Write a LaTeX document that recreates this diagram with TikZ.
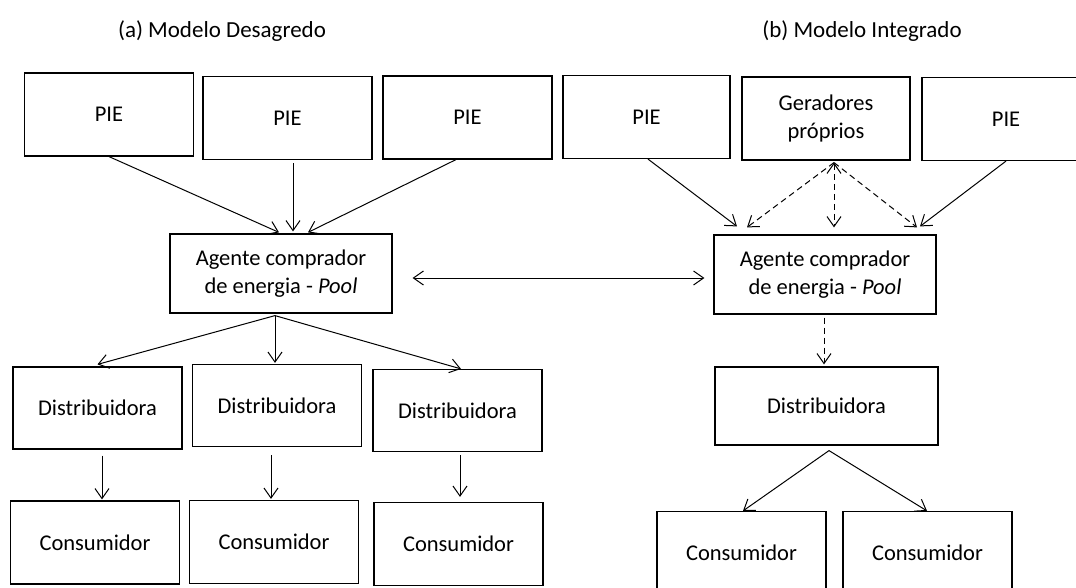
\documentclass[tikz,border=0pt]{standalone}
\usepackage{fontspec}
\setmainfont{Carlito}
\usetikzlibrary{arrows.meta}

\tikzset{
  >={Straight Barb[length=10pt,width=14pt]},
  caixa/.style={draw, line width=1.2pt, align=center, inner sep=0pt,
    minimum width=169pt, minimum height=83pt, font=\fontsize{22.5}{28}\selectfont},
  agente/.style={caixa, minimum width=222pt, minimum height=79pt},
  titulo/.style={font=\fontsize{23}{28}\selectfont},
  seta/.style={->, line width=1pt},
  tracejada/.style={seta, dash pattern=on 6pt off 4pt},
}

\begin{document}
\begin{tikzpicture}[x=1pt,y=-1pt]
\useasboundingbox (0,0) rectangle (1076,588);
\clip (0,0) rectangle (1076,588);
% (a) modelo desagregado
\node[titulo] (TA) at (222,31) {(a) Modelo Desagredo};
\node[caixa] (PA1) at (109,114.5) {PIE};
\node[caixa] (PA2) at (287.5,118) {PIE};
\node[caixa] (PA3) at (467.5,117.5) {PIE};
\node[agente] (AGA) at (281,273.5) {Agente comprador\\de energia - \textit{Pool}};
\node[caixa, minimum height=82pt] (DA1) at (97.5,408) {Distribuidora};
\node[caixa, minimum height=82pt] (DA2) at (277,405.5) {Distribuidora};
\node[caixa, minimum height=82pt] (DA3) at (457.5,410.5) {Distribuidora};
\node[caixa] (CA1) at (95,542.5) {Consumidor};
\node[caixa] (CA2) at (274,542) {Consumidor};
\node[caixa] (CA3) at (458.5,544) {Consumidor};
\draw[seta] (PA1.south) -- ([xshift=-2pt,yshift=1pt]AGA.north);
\draw[seta] ([xshift=5.5pt,yshift=-3pt]PA2.south) -- ([xshift=12pt,yshift=2pt]AGA.north);
\draw[seta] ([xshift=-11.5pt]PA3.south) -- ([xshift=27pt,yshift=1pt]AGA.north);
\draw[seta] ([xshift=-6pt,yshift=-2pt]AGA.south) -- ([yshift=2pt]DA1.north);
\draw[seta] ([xshift=-6pt,yshift=-2pt]AGA.south) -- ([xshift=-2pt,yshift=1pt]DA2.north);
\draw[seta] ([xshift=-6pt,yshift=-2pt]AGA.south) -- ([xshift=3.5pt]DA3.north);
\draw[seta] ([xshift=4.5pt,yshift=-6pt]DA1.south) -- ([xshift=7pt,yshift=1pt]CA1.north);
\draw[seta] ([xshift=-6pt,yshift=-8pt]DA2.south) -- ([xshift=-3pt,yshift=1pt]CA2.north);
\draw[seta] ([xshift=2.5pt,yshift=-3pt]DA3.south) -- ([xshift=1.5pt,yshift=5pt]CA3.north);
% (b) modelo integrado
\node[titulo] (TB) at (862,31) {(b) Modelo Integrado};
\node[caixa, minimum width=167pt] (PB1) at (646.5,117) {PIE};
\node[caixa, minimum width=168pt] (GP) at (826,118.5) {Geradores\\próprios};
\node[caixa, minimum width=168pt] (PB2) at (1006,119) {PIE};
\node[agente] (AGB) at (825,274.5) {Agente comprador\\de energia - \textit{Pool}};
\node[caixa, minimum width=223pt, minimum height=78pt] (DB) at (826.5,406) {Distribuidora};
\node[caixa] (CB1) at (741.5,553) {Consumidor};
\node[caixa] (CB2) at (927.5,553) {Consumidor};
\draw[seta] ([xshift=1.5pt]PB1.south) -- ([xshift=-88pt,yshift=8pt]AGB.north);
\draw[seta] (PB2.south) -- ([xshift=95pt,yshift=8pt]AGB.north);
\draw[tracejada] ([xshift=8pt,yshift=-2pt]GP.south) -- ([xshift=-78pt,yshift=7pt]AGB.north);
\draw[tracejada,<->] ([xshift=8pt,yshift=-2pt]GP.south) -- ([xshift=9pt,yshift=7pt]AGB.north);
\draw[tracejada] ([xshift=8pt,yshift=-2pt]GP.south) -- ([xshift=92pt,yshift=7pt]AGB.north);
\draw[tracejada] ([xshift=-1pt,yshift=-3pt]AGB.south) -- ([xshift=-2.5pt,yshift=2pt]DB.north);
\draw[seta] ([xshift=2.5pt,yshift=-5pt]DB.south) -- ([xshift=1.5pt]CB1.north);
\draw[seta] ([xshift=2.5pt,yshift=-5pt]DB.south) -- ([xshift=-0.5pt]CB2.north);
% ligacao entre os dois agentes
\draw[seta,<->] ([xshift=20pt,yshift=-4.5pt]AGA.east) -- ([xshift=-9pt,yshift=-3.5pt]AGB.west);
\end{tikzpicture}
\end{document}
